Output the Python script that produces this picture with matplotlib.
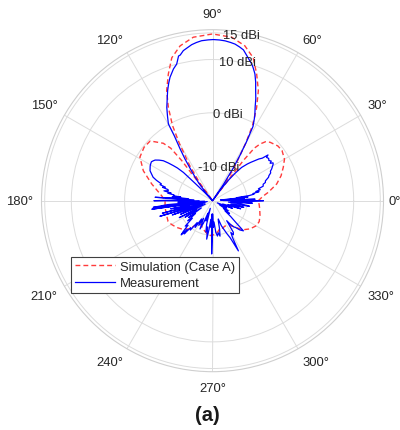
import numpy as np
import matplotlib
matplotlib.use("Agg")
import matplotlib.pyplot as plt

plt.rcParams['font.family'] = ['Liberation Sans', 'DejaVu Sans']

# ---------------- data ----------------
sim_theta_deg = [0, 5, 8.6, 14.6, 20, 25.3, 30, 35.9, 40, 45.4, 48, 50, 51.5, 52.5, 53.5, 54.2,
                 57, 60, 62, 64.7, 67.4, 70.8, 74.1, 78.2, 83.3, 90, 96.7, 101.8, 105.9, 109.2,
                 112.6, 115.3, 118, 120, 123, 125.8, 126.5, 127.5, 128.5, 130.6, 136.2, 142, 149,
                 156.6, 164.6, 174.4, 180, 188, 198, 205, 210, 216.6, 222, 229.5, 235.8, 240,
                 245, 250, 256, 262, 268.7, 275, 280, 285.7, 290, 296, 304.9, 310, 314.2, 318,
                 323, 330.5, 336, 342.5, 350, 355, 360]
sim_gain_dbi = [-7.9, -7.0, -5.9, -4.05, -2.8, -1.8, -0.9, -0.4, -0.5, -1.1, -1.6, -2.6, -3.9, -7,
                -16.5, -12.5, -8.7, -4.0, -0.5, 2.9, 5.9, 8.7, 11.4, 13.2, 14.4, 14.8, 14.4, 13.2,
                11.4, 8.7, 5.9, 2.9, -0.5, -4.0, -8.7, -12.5, -16.5, -7, -3.9, -2.3, -0.3, -0.2,
                -0.6, -2.35, -4.67, -6.9, -7.6, -7.5, -7.45, -7.3, -7.6, -8.1, -8.6, -9.5, -11.0,
                -11.5, -11.5, -11, -10.6, -10.1, -9.9, -10.3, -10.6, -11.2, -11.0, -11.2, -10.8,
                -10.1, -9.1, -8.4, -7.7, -7.0, -6.9, -7.15, -7.5, -7.7, -7.9]

meas_theta_deg = [0, 1, 2, 3, 4, 5, 6, 7, 8, 9, 10, 11, 12, 13, 14.5, 16, 18, 19, 20.5, 22.7, 24,
                  25.5, 27, 28.2, 29.5, 31.1, 32, 33, 34, 35.5, 37, 38.7, 39.5, 40.5, 42, 43.3, 45,
                  46.5, 48.8, 50.5, 52, 53.5, 55, 56, 57.5, 58.8, 60, 61.4, 63.5, 65.5, 67, 68.6,
                  70, 71.5, 73, 74, 75.5, 76.7, 78.4, 80, 81.8, 83.5, 85.5, 87.5, 89.7, 91.5, 93.9,
                  95.8, 97.6, 99.3, 101, 102.5, 103.2, 104.7, 106.5, 109, 110.5, 112.2, 114, 116.1,
                  118, 119.9, 120.5, 122, 123.4, 125.5, 127.7, 129.5, 131, 133.5, 135, 135.8, 137,
                  138.2, 139.5, 140.9, 142.8, 144.7, 146, 147.5, 149.3, 150.8, 152.5, 154.4, 156.3,
                  158.4, 160, 161.8, 163, 164, 165, 166, 167.3, 168.5, 169.5, 170.5, 171.5, 172.7,
                  173.5, 174.5, 175.5, 176.6, 177.5, 179, 180, 181, 182.5, 183.5, 185, 186.4, 187.5,
                  188, 189.5, 191, 192.5, 194, 195.3, 196.5, 198, 199.5, 201, 203, 205, 207, 209,
                  211, 213, 215, 217, 219, 221, 223, 225, 226.5, 227.5, 228.5, 229.5, 231, 233, 235,
                  237, 239, 241, 243, 246.2, 248, 250, 252, 254, 256, 258, 259.5, 261.4, 263, 265,
                  266.5, 268, 269.1, 270.5, 272, 274, 276, 278, 280, 282, 284, 286, 287.6, 289.5,
                  291.5, 293.5, 295.5, 297.3, 298.5, 300, 301.5, 303.4, 305.4, 307, 309, 311, 313,
                  315.7, 317, 319, 321, 323, 325, 327, 330, 333, 336, 339, 342, 344, 346, 348, 350,
                  351.5, 353.5, 355, 356.5, 358, 359, 360]
meas_gain_dbi = [-7.0, -14.5, -8.5, -13, -10.5, -15, -9.8, -12, -9.5, -8.6, -8.8, -7.6, -8.2, -7.3,
                 -7.6, -6.6, -6.5, -6.0, -5.9, -5.1, -4.9, -4.4, -4.3, -3.9, -3.6, -3.2, -3.1, -3.6,
                 -3.2, -3.5, -3.3, -3.5, -3.0, -4.2, -4.8, -5.5, -6.3, -7.0, -8.2, -9.8, -11.5,
                 -13.5, -16.5, -13, -9.5, -6.5, -3.8, -0.6, 1.3, 2.8, 4.3, 5.7, 7.2, 8.6, 9.6, 10.2,
                 10.9, 11.5, 12.4, 12.8, 13.2, 13.4, 13.6, 13.7, 13.75, 13.7, 13.6, 13.35, 13.05,
                 12.6, 12.2, 11.5, 11.4, 10.0, 9.3, 8.0, 7.0, 5.8, 4.4, 3.0, 1.5, 0.1, -2.4, -5.0,
                 -7.1, -10, -12.1, -14.5, -16.5, -14.5, -12, -8.9, -7.5, -6.6, -5.6, -4.6, -3.9,
                 -3.3, -3.1, -2.9, -3.0, -3.1, -3.3, -3.5, -4.0, -4.5, -5.3, -6.4, -6.2, -7.3, -6.8,
                 -7.9, -8.0, -7.2, -8.6, -8.0, -9.2, -9.1, -10.5, -8.9, -12, -5.7, -13, -9.5, -5.5,
                 -14, -10, -15, -8, -5.3, -14, -5.0, -15.5, -8.5, -12, -6.8, -15, -6.2, -14.5, -8.5,
                 -13.5, -10, -15, -9.5, -13, -10.5, -14, -11, -12.5, -10.5, -11.5, -9.5, -10, -8.5,
                 -7.8, -9.3, -8.3, -10, -9.6, -11.5, -10.5, -12.5, -11.2, -12.8, -10.7, -12, -14,
                 -12.5, -15, -12, -10.5, -11.5, -9.2, -11, -13, -11.5, -14, -6.5, -14, -11.5, -12.5,
                 -10.5, -9.8, -10.4, -9.7, -11, -12.5, -12.9, -11.5, -10.8, -9.8, -8.8, -5.9, -8.6,
                 -9.6, -9.0, -9.4, -11.9, -11, -10.2, -9.8, -9.0, -8.4, -10.5, -12, -13.5, -12.5,
                 -14, -13, -15, -13.5, -15.5, -12.5, -14.5, -11, -13.5, -10.5, -13, -9.5, -11, -13.5,
                 -9, -13, -10, -7.0]

r_ticks = [-10, 0, 10, 15]
r_tick_labels = ["-10 dBi", "0 dBi", "10 dBi", "15 dBi"]
theta_ticks_deg = list(range(0, 360, 30))
legend_labels = ["Simulation (Case A)", "Measurement"]
r_min, r_max = -16.5, 15.6

# ---------------- figure ----------------
W, H = 400, 431
fig = plt.figure(figsize=(W / 100, H / 100), dpi=100)
cx, cy, R = 212.5, 201.7, 171.0
ax = fig.add_axes([(cx - R) / W, (H - cy - R) / H, 2 * R / W, 2 * R / H], projection='polar')

text_col = '#262626'
grid_col = '#dcdcdc'

ax.plot(np.deg2rad(sim_theta_deg), sim_gain_dbi, color='#ff3b3b', lw=1.0,
        linestyle=(0, (3.5, 2.2)), label=legend_labels[0], zorder=3)
ax.plot(np.deg2rad(meas_theta_deg), meas_gain_dbi, color='#0000ff', lw=0.9,
        label=legend_labels[1], zorder=4)

ax.set_rlim(r_min, r_max)
ax.set_yticks(r_ticks)
ax.set_yticklabels([])
ax.set_xticks(np.deg2rad(theta_ticks_deg))
ax.set_xticklabels([])
ax.grid(True, color=grid_col, lw=0.7)
ax.spines['polar'].set_color('#cfcfcf')
ax.spines['polar'].set_linewidth(0.8)
ax.tick_params(length=0)

# radial labels at 80 deg
for r, lab in zip(r_ticks, r_tick_labels):
    ax.text(np.deg2rad(80), r, lab, ha='center', va='center', fontsize=9.4, color=text_col,
            zorder=5)

# theta labels
px_per_db = R / (r_max - r_min)
r_lab = r_max + 8 / px_per_db
for t in theta_ticks_deg:
    c, s = np.cos(np.deg2rad(t)), np.sin(np.deg2rad(t))
    ha = 'center' if abs(c) < 0.2 else ('left' if c > 0 else 'right')
    va = 'center' if abs(s) < 0.2 else ('bottom' if s > 0 else 'top')
    rr = r_lab + (0.4 if abs(c) < 0.2 else 0)
    if t == 0:
        rr = r_max + 5 / px_per_db
    ax.text(np.deg2rad(t), rr, f"{t}°", ha=ha, va=va, fontsize=9.4, color=text_col,
            clip_on=False)

leg = ax.legend(loc='upper left', bbox_to_anchor=(70.7 / W, 1 - 258 / H),
                bbox_transform=fig.transFigure, borderaxespad=0, fontsize=9.4,
                fancybox=False, framealpha=1, edgecolor='#404040', borderpad=0.3,
                handlelength=3.1, handletextpad=0.4, labelspacing=0.3)
leg.get_frame().set_linewidth(0.8)
for t in leg.get_texts():
    t.set_color(text_col)

fig.text(207 / W, 1 - 416 / H, "(a)", ha='center', va='center', fontsize=14.5,
         fontweight='bold', color='#1a1a1a')

fig.savefig("out.png", dpi=100)
